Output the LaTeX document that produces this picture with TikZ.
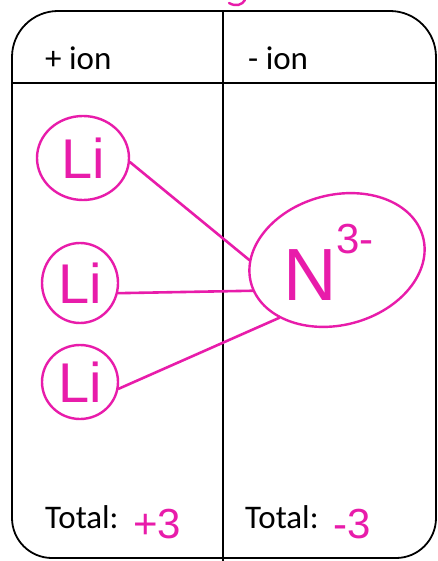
\documentclass[tikz,border=0pt]{standalone}
\usepackage{fontspec}
\setmainfont{Carlito}
\newfontfamily\handfont{Liberation Sans}
\usetikzlibrary{shapes.geometric}
\definecolor{ink}{RGB}{232,28,170}
\tikzset{
  frame/.style={line width=1.8pt, black},
  hdr/.style={font=\fontsize{33}{36}\selectfont, anchor=base west, inner sep=0pt},
  ion/.style={draw=ink, line width=2.4pt, ellipse, inner sep=0pt, text=ink, font=\handfont\fontsize{56}{60}\selectfont},
  bond/.style={draw=ink, line width=2.6pt, line cap=round},
  pinknum/.style={text=ink, font=\handfont\fontsize{42}{44}\selectfont, anchor=base west, inner sep=0pt}
}
\begin{document}
\begin{tikzpicture}[x=1pt,y=-1pt]
\useasboundingbox (0,0) rectangle (437,561);
\fill[white] (0,0) rectangle (437,561);
% frame
\draw[frame, rounded corners=46pt] (12,300) -- (12,11) -- (436,11) -- (436,300);
\draw[frame, rounded corners=40pt] (12,300) -- (12,558) -- (436,558) -- (436,300);
\draw[frame] (223,11) -- (223,561);
\draw[frame] (12,83) -- (436,83);
% fragment at top
\draw[ink, line width=2.4pt, line cap=round] (229,3) .. controls (236,7) and (242,5) .. (245,0);
% headers
\node[hdr] (hp) at (45,70) {+ ion};
\node[hdr] (hm) at (248,70) {- ion};
% ions
\node[ion, minimum width=92pt, minimum height=84pt] (li1) at (83,158) {Li};
\node[ion, minimum width=76pt, minimum height=80pt] (li2) at (80,283) {Li};
\node[ion, minimum width=76pt, minimum height=74pt] (li3) at (80,382) {Li};
\node[ion, rotate=15, minimum width=178pt, minimum height=130pt] (n) at (337,260) {};
\node[text=ink, font=\handfont\fontsize{74}{76}\selectfont, inner sep=0pt, anchor=base west] (nlab) at (283,300) {N};
\node[text=ink, font=\handfont\fontsize{42}{44}\selectfont, inner sep=0pt, anchor=base west] (nsup) at (336,253) {3-};
% bonds
\draw[bond] (li1.-5) -- (n.165);
\draw[bond] (li2.-15) -- (n.185);
\draw[bond] (li3.-10) -- (n.210);
% totals
\node[hdr] (tp) at (45,528) {Total:};
\node[pinknum] (vp) at (133,538) {+3};
\node[hdr] (tm) at (245,528) {Total:};
\node[pinknum] (vm) at (333,538) {-3};
\end{tikzpicture}
\end{document}
